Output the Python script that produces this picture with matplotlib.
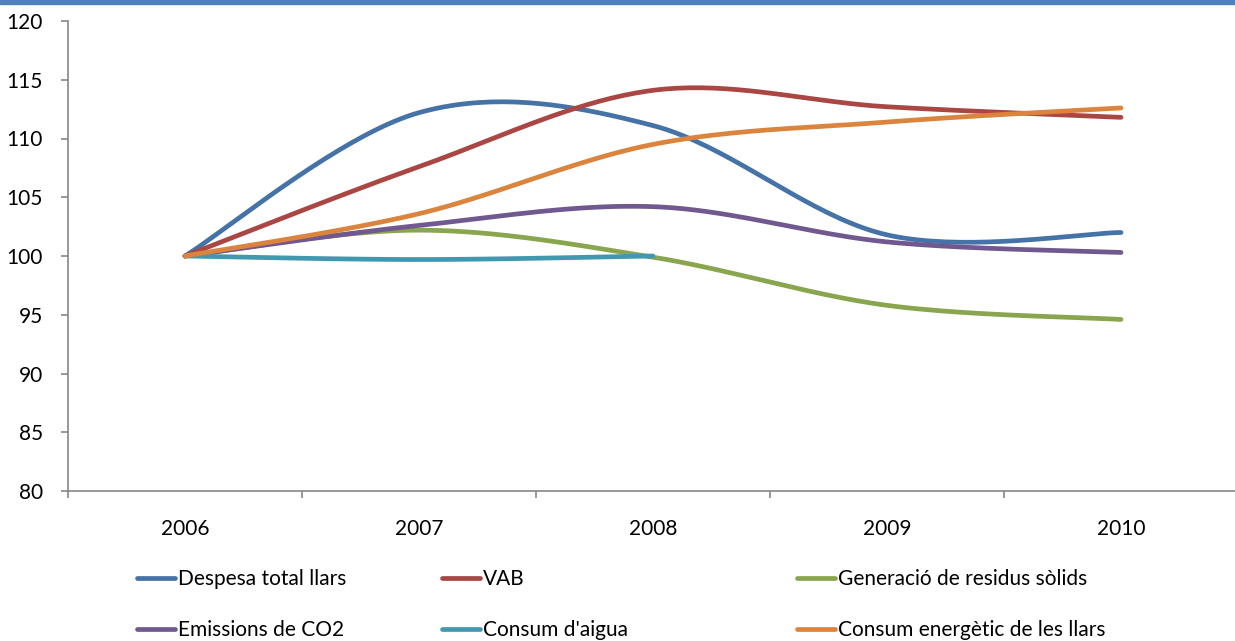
import numpy as np
import matplotlib.pyplot as plt
from matplotlib.patches import Rectangle

anys = ["2006", "2007", "2008", "2009", "2010"]

despesa = [100, 112.2, 111.1, 101.8, 102.0]
vab = [100, 107.6, 114.1, 112.7, 111.8]
residus = [100, 102.2, 99.9, 95.8, 94.6]
emissions = [100, 102.6, 104.2, 101.2, 100.3]
aigua = [100, 99.7, 100.0]
energia = [100, 103.6, 109.5, 111.4, 112.6]

series = [
    ("Despesa total llars", despesa, "#4572A7"),
    ("VAB", vab, "#AA4643"),
    ("Generació de residus sòlids", residus, "#89A54E"),
    ("Emissions de CO2", emissions, "#71588F"),
    ("Consum d'aigua", aigua, "#4198AF"),
    ("Consum energètic de les llars", energia, "#DB843D"),
]


def suavitzat(y, n=40):
    # corba suau tipus Excel (Bezier amb punts de control Catmull-Rom)
    x = np.arange(len(y), dtype=float)
    y = np.asarray(y, dtype=float)
    px = np.concatenate([[x[0]], x, [x[-1]]])
    py = np.concatenate([[y[0]], y, [y[-1]]])
    xs, ys = [], []
    t = np.linspace(0, 1, n)
    for i in range(1, len(px) - 2):
        p0 = np.array([px[i], py[i]])
        p3 = np.array([px[i + 1], py[i + 1]])
        c1 = p0 + (np.array([px[i + 1], py[i + 1]]) - np.array([px[i - 1], py[i - 1]])) / 6
        c2 = p3 - (np.array([px[i + 2], py[i + 2]]) - np.array([px[i], py[i]])) / 6
        b = ((1 - t) ** 3)[:, None] * p0 + (3 * (1 - t) ** 2 * t)[:, None] * c1 \
            + (3 * (1 - t) * t ** 2)[:, None] * c2 + (t ** 3)[:, None] * p3
        xs.append(b[:, 0])
        ys.append(b[:, 1])
    return np.concatenate(xs), np.concatenate(ys)


plt.rcParams['font.family'] = ['Lato', 'DejaVu Sans']

fig = plt.figure(figsize=(12.35, 6.41), dpi=100)
ax = fig.add_axes([68 / 1235, 1 - 491 / 641, 1170 / 1235, 470 / 641])

handles = {}
for nom, valors, color in series:
    xs, ys = suavitzat(valors)
    ln, = ax.plot(xs, ys, color=color, linewidth=3.4, solid_capstyle='round', label=nom)
    handles[nom] = ln

ax.set_xlim(-0.5, 4.5)
ax.set_ylim(80, 120)
ax.set_yticks(range(80, 121, 5))
ax.set_xticks(range(len(anys)))
ax.set_xticklabels(anys)
ax.set_xticks(np.arange(-0.5, 4.6, 1), minor=True)

for s in ["top", "right"]:
    ax.spines[s].set_visible(False)
for s in ["left", "bottom"]:
    ax.spines[s].set_color("#868686")
    ax.spines[s].set_linewidth(1.2)

ax.tick_params(axis='y', length=5, color="#868686", width=1.2, pad=13, labelsize=15)
ax.tick_params(axis='x', which='major', length=0, pad=20, labelsize=15)
ax.tick_params(axis='x', which='minor', length=5, color="#868686", width=1.2)

# llegenda en tres columnes, dues files
columnes = [
    (137, ["Despesa total llars", "Emissions de CO2"]),
    (442, ["VAB", "Consum d'aigua"]),
    (797, ["Generació de residus sòlids", "Consum energètic de les llars"]),
]
for xpix, noms in columnes:
    leg = fig.legend([handles[n] for n in noms], noms, loc='upper left',
                     bbox_to_anchor=(xpix / 1235, 1 - 569 / 641), frameon=False,
                     fontsize=15, borderpad=0, borderaxespad=0, handlelength=1.8,
                     handletextpad=0.15, labelspacing=1.5)

fig.patches.append(Rectangle((0, 1 - 4 / 641), 1, 4 / 641, transform=fig.transFigure,
                             color="#4F81BD", zorder=0))

fig.savefig("out.png", dpi=100)
